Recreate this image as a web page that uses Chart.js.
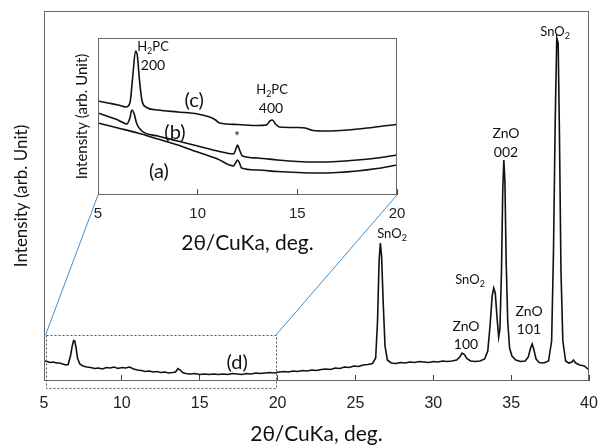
<!DOCTYPE html>
<html>
<head>
<meta charset="utf-8">
<script src="https://cdn.jsdelivr.net/npm/chart.js@4.4.1/dist/chart.umd.min.js"></script>
<style>
  body { margin: 0; background: #fff; }
  #wrap { position: relative; width: 600px; height: 447px; }
  #mainChart { position: absolute; left: 0; top: 0; }
  #insetChart { position: absolute; left: 56px; top: 28px; }
</style>
</head>
<body>
<div id="wrap">
  <canvas id="mainChart" width="600" height="447"></canvas>
  <canvas id="insetChart" width="364" height="232"></canvas>
</div>
<script>

// =========================
// DATA - main pattern (d)
// =========================

const mainTheta = [
  5.0, 5.2, 5.4, 5.6, 5.8, 6.0, 6.2, 6.4, 6.55, 6.7, 6.8, 6.9, 6.98, 7.06, 7.15, 7.3, 7.5, 7.75,
  8.0, 8.25, 8.5, 8.75, 9.0, 9.25, 9.5, 9.75, 10.0, 10.25, 10.5, 10.75, 11.0, 11.25, 11.5, 11.75,
  12.0, 12.25, 12.5, 12.75, 13.0, 13.25, 13.45, 13.6, 13.75, 13.9, 14.1, 14.4, 14.7, 15.0, 15.3,
  15.6, 15.9, 16.2, 16.5, 16.8, 17.1, 17.4, 17.7, 18.0, 18.3, 18.6, 18.9, 19.2, 19.5, 19.8, 20.1,
  20.4, 20.7, 21.0, 21.3, 21.6, 21.9, 22.2, 22.5, 22.8, 23.1, 23.4, 23.7, 24.0, 24.3, 24.6, 24.9,
  25.2, 25.5, 25.8, 26.1, 26.3, 26.42, 26.52, 26.6, 26.68, 26.78, 26.9, 27.05, 27.3, 27.6, 27.9,
  28.2, 28.5, 28.8, 29.1, 29.4, 29.7, 30.0, 30.3, 30.6, 30.9, 31.2, 31.5, 31.7, 31.85, 32.0, 32.15,
  32.4, 32.7, 33.0, 33.3, 33.5, 33.65, 33.78, 33.88, 33.98, 34.1, 34.2, 34.28, 34.38, 34.46, 34.53,
  34.6, 34.68, 34.78, 34.9, 35.05, 35.3, 35.6, 35.9, 36.1, 36.25, 36.35, 36.45, 36.6, 36.8, 37.1,
  37.4, 37.6, 37.72, 37.83, 37.93, 38.02, 38.1, 38.2, 38.32, 38.5, 38.7, 38.9, 39.0, 39.15, 39.4,
  39.7, 40.0
];

const mainCounts = [
  200, 195, 185, 190, 180, 180, 170, 160, 165, 250, 340, 405, 400, 330, 230, 170, 150, 140,
  135, 125, 130, 120, 135, 130, 140, 125, 135, 130, 140, 120, 110, 105, 95, 100,
  90, 95, 85, 90, 80, 85, 90, 125, 110, 85, 75, 70, 75, 65, 70,
  65, 70, 65, 70, 65, 75, 70, 65, 75, 70, 80, 75, 80, 85, 80, 90,
  95, 90, 100, 95, 105, 100, 110, 105, 115, 120, 115, 130, 125, 140, 135, 150,
  145, 160, 165, 175, 230, 600, 1200, 1380, 1250, 800, 350, 210, 180, 175, 185,
  180, 190, 185, 195, 190, 185, 195, 190, 200, 195, 200, 210, 240, 280, 265, 225,
  200, 195, 200, 220, 300, 560, 850, 930, 880, 620, 440, 520, 1100, 1900, 2210,
  2000, 1200, 600, 330, 250, 210, 195, 200, 240, 330, 370, 320, 220, 185, 180,
  200, 400, 1300, 2600, 3430, 3380, 2500, 1100, 400, 200, 180, 190, 210, 180, 160,
  150, 110
];

// zoomed region marked on the main pattern
const boxTheta = [5.1, 19.9];
const boxCounts = [-70, 460];

// peak labels on the main pattern
const mainLabelText = ["SnO_2", "ZnO", "002", "SnO_2", "ZnO", "100", "SnO_2", "ZnO", "101", "(d)"];
const mainLabelX = [37.82, 34.67, 34.67, 27.35, 32.10, 32.10, 32.36, 36.15, 36.15, 17.40];
const mainLabelY = [3490, 2480, 2290, 1470, 550, 370, 1010, 700, 520, 180];
const mainLabelSize = [13, 14, 14, 13, 14, 14, 13, 14, 14, 20];

// =========================
// DATA - inset (a), (b), (c)
// =========================

const thetaA = [5, 6, 7, 8, 9, 10, 11, 11.8, 11.9, 12.0, 12.1, 12.2, 13, 14, 15, 16, 17, 18, 19, 20];
const countsA = [720, 670, 620, 560, 500, 430, 360, 290, 320, 350, 320, 270, 250, 235, 225, 220, 225, 240, 265, 300];

const thetaB = [5, 6, 6.45, 6.6, 6.7, 6.8, 6.95, 7.2, 8, 9, 10, 11, 11.8, 11.9, 12.0, 12.1, 12.25, 13, 14, 15, 16, 17, 18, 19, 20];
const countsB = [820, 750, 710, 770, 850, 820, 710, 640, 590, 540, 490, 440, 410, 450, 500, 450, 390, 370, 350, 335, 330, 335, 350, 370, 400];

const thetaC = [5, 5.5, 6, 6.4, 6.6, 6.75, 6.88, 6.97, 7.08, 7.2, 7.4, 8, 9, 10, 10.6, 10.9, 11.1, 12, 13, 13.45, 13.62, 13.75, 13.9, 14.1, 15, 15.4, 15.8, 16.5, 17.5, 18.5, 19.3, 20];
const countsC = [940, 920, 900, 880, 920, 1200, 1440, 1400, 1150, 950, 880, 850, 830, 810, 780, 750, 720, 705, 695, 700, 740, 750, 710, 680, 675, 670, 645, 640, 650, 670, 690, 705];

const insetLabelText = ["H_2PC", "200", "(c)", "H_2PC", "400", "(b)", "*", "(a)"];
const insetLabelX = [7.76, 7.76, 9.82, 13.73, 13.68, 8.86, 11.97, 8.06];
const insetLabelY = [1480, 1300, 940, 1050, 870, 620, 580, 230];
const insetLabelSize = [13, 14, 20, 13, 14, 20, 13, 20];

const xTicks = [5, 10, 15, 20, 25, 30, 35, 40];
const insetTicks = [5, 10, 15, 20];

// =========================
// HELPERS
// =========================

const pts = (xs, ys) => xs.map((x, i) => ({ x: x, y: ys[i] }));

// draws text where "_2" means a subscript 2
function drawRichText(ctx, text, cx, cy, size) {
  const parts = [];
  for (let i = 0; i < text.length; i++) {
    if (text[i] === "_" && i + 1 < text.length) {
      parts.push({ t: text[i + 1], sub: true });
      i++;
    } else {
      if (parts.length && !parts[parts.length - 1].sub) parts[parts.length - 1].t += text[i];
      else parts.push({ t: text[i], sub: false });
    }
  }
  const subSize = Math.round(size * 0.7);
  let total = 0;
  parts.forEach(p => {
    ctx.font = (p.sub ? subSize : size) + "px Lato";
    p.w = ctx.measureText(p.t).width;
    total += p.w;
  });
  let x = cx - total / 2;
  ctx.textAlign = "left";
  ctx.textBaseline = "middle";
  parts.forEach(p => {
    ctx.font = (p.sub ? subSize : size) + "px Lato";
    ctx.fillText(p.t, x, p.sub ? cy + size * 0.3 : cy);
    x += p.w;
  });
}

function drawLabels(chart, texts, xs, ys, sizes) {
  const { ctx, scales: { x, y } } = chart;
  ctx.save();
  ctx.fillStyle = "#111";
  texts.forEach((t, i) => {
    drawRichText(ctx, t, x.getPixelForValue(xs[i]), y.getPixelForValue(ys[i]), sizes[i]);
  });
  ctx.restore();
}

function frame(chart) {
  const { ctx, chartArea: a } = chart;
  ctx.save();
  ctx.strokeStyle = "#666";
  ctx.lineWidth = 1;
  ctx.strokeRect(Math.round(a.left) + 0.5, Math.round(a.top) + 0.5,
    Math.round(a.right - a.left) - 1, Math.round(a.bottom - a.top) - 1);
  ctx.restore();
}

let insetChart = null;

const mainDecor = {
  id: "mainDecor",
  afterDraw(chart) {
    const { ctx, scales: { x, y } } = chart;
    frame(chart);

    // dotted box over 5-20 deg
    const bx1 = x.getPixelForValue(boxTheta[0]);
    const bx2 = x.getPixelForValue(boxTheta[1]);
    const by1 = y.getPixelForValue(boxCounts[1]);
    const by2 = y.getPixelForValue(boxCounts[0]);
    ctx.save();
    ctx.strokeStyle = "#555";
    ctx.lineWidth = 1;
    ctx.setLineDash([2, 2]);
    ctx.strokeRect(Math.round(bx1) + 0.5, Math.round(by1) + 0.5, Math.round(bx2 - bx1), Math.round(by2 - by1));
    ctx.restore();

    // blue lines towards the inset
    if (insetChart) {
      const ia = insetChart.chartArea;
      const ox = insetChart.canvas.offsetLeft;
      const oy = insetChart.canvas.offsetTop;
      ctx.save();
      ctx.strokeStyle = "#3d8fd1";
      ctx.lineWidth = 1;
      ctx.beginPath();
      ctx.moveTo(bx1, by1);
      ctx.lineTo(ox + ia.left, oy + ia.bottom);
      ctx.moveTo(bx2, by1);
      ctx.lineTo(ox + ia.right, oy + ia.bottom);
      ctx.stroke();
      ctx.restore();
    }

    drawLabels(chart, mainLabelText, mainLabelX, mainLabelY, mainLabelSize);
  }
};

const insetDecor = {
  id: "insetDecor",
  afterDraw(chart) {
    frame(chart);
    drawLabels(chart, insetLabelText, insetLabelX, insetLabelY, insetLabelSize);
  }
};

// =========================
// MAIN CHART
// =========================

const mainChart = new Chart(document.getElementById("mainChart").getContext("2d"), {
  type: "line",
  data: {
    datasets: [{
      data: pts(mainTheta, mainCounts),
      borderColor: "#111",
      borderWidth: 1.6,
      pointRadius: 0,
      tension: 0
    }]
  },
  options: {
    responsive: false,
    animation: false,
    layout: { padding: { left: 8, right: 11, top: 11, bottom: 0 } },
    plugins: { legend: { display: false }, tooltip: { enabled: false } },
    scales: {
      x: {
        type: "linear",
        min: 5,
        max: 40,
        afterBuildTicks: s => { s.ticks = xTicks.map(v => ({ value: v })); },
        afterFit: s => { s.height = 66; s.paddingLeft = 0; s.paddingRight = 0; },
        ticks: { color: "#222", padding: 19, font: { family: "Liberation Sans", size: 16 } },
        grid: { drawOnChartArea: false, tickLength: -6, color: "#444" },
        border: { display: false },
        title: {
          display: true,
          text: "2θ/CuKa, deg.",
          color: "#111",
          font: { family: "Lato", size: 21 },
          padding: { top: 0, bottom: 0 }
        }
      },
      y: {
        min: 0,
        max: 3700,
        afterFit: s => { s.width = 36; },
        ticks: { display: false },
        grid: { display: false },
        border: { display: false },
        title: {
          display: true,
          text: "Intensity (arb. Unit)",
          color: "#111",
          font: { family: "Lato", size: 17 },
          padding: { top: 3, bottom: 0 }
        }
      }
    }
  },
  plugins: [mainDecor]
});

// =========================
// INSET CHART
// =========================

insetChart = new Chart(document.getElementById("insetChart").getContext("2d"), {
  type: "line",
  data: {
    datasets: [
      { data: pts(thetaA, countsA), borderColor: "#111", borderWidth: 1.6, pointRadius: 0, cubicInterpolationMode: "monotone" },
      { data: pts(thetaB, countsB), borderColor: "#111", borderWidth: 1.6, pointRadius: 0, cubicInterpolationMode: "monotone" },
      { data: pts(thetaC, countsC), borderColor: "#111", borderWidth: 1.6, pointRadius: 0, cubicInterpolationMode: "monotone" }
    ]
  },
  options: {
    responsive: false,
    animation: false,
    layout: { padding: { left: 12, right: 23, top: 10, bottom: 0 } },
    plugins: { legend: { display: false }, tooltip: { enabled: false } },
    scales: {
      x: {
        type: "linear",
        min: 5,
        max: 20,
        afterBuildTicks: s => { s.ticks = insetTicks.map(v => ({ value: v })); },
        afterFit: s => { s.height = 65; s.paddingLeft = 0; s.paddingRight = 0; },
        ticks: { color: "#222", padding: 16, font: { family: "Liberation Sans", size: 15 } },
        grid: { drawOnChartArea: false, tickLength: -6, color: "#444" },
        border: { display: false },
        title: {
          display: true,
          text: "2θ/CuKa, deg.",
          color: "#111",
          font: { family: "Lato", size: 21 },
          padding: { top: 0, bottom: 4 }
        }
      },
      y: {
        min: 0,
        max: 1570,
        afterFit: s => { s.width = 30; },
        ticks: { display: false },
        grid: { display: false },
        border: { display: false },
        title: {
          display: true,
          text: "Intensity (arb. Unit)",
          color: "#111",
          font: { family: "Lato", size: 15 },
          padding: { top: 5, bottom: 0 }
        }
      }
    }
  },
  plugins: [insetDecor]
});

// redraw so the connector lines know where the inset sits
mainChart.draw();

</script>
</body>
</html>
